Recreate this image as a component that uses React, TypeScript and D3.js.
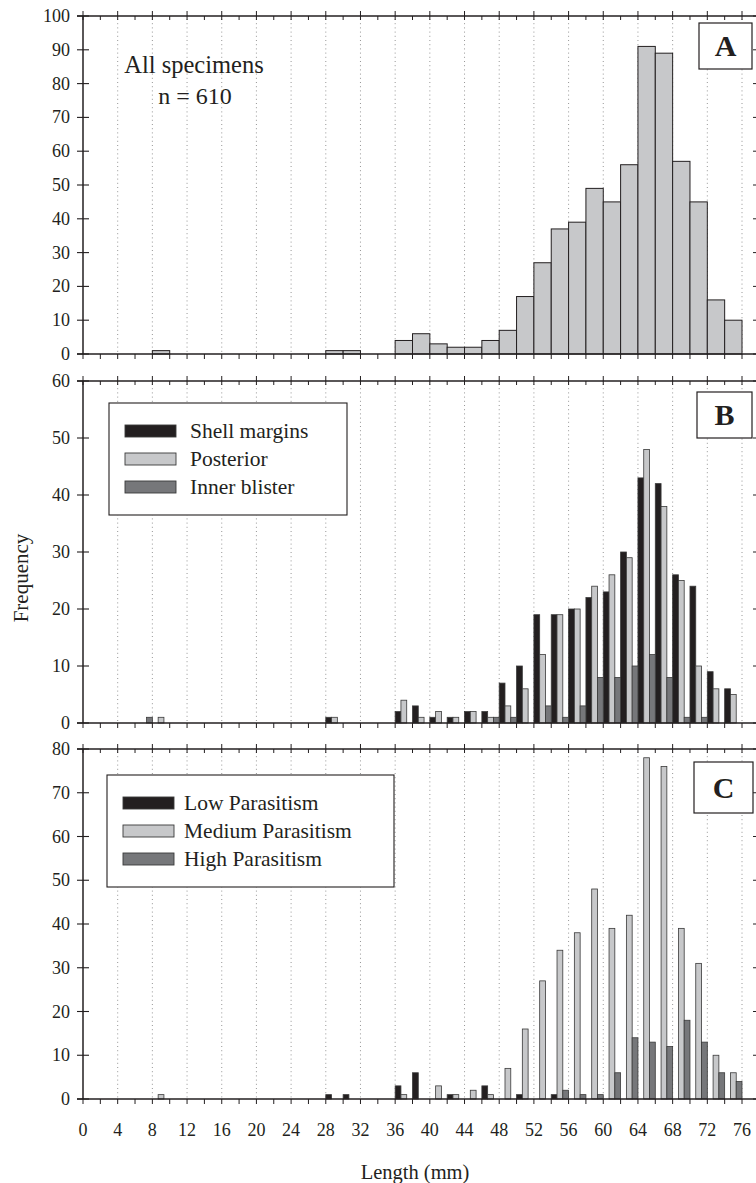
import React from "react";
import * as d3 from "d3";

// 2 mm length classes (class start, mm)
const binStarts = [0, 2, 4, 6, 8, 10, 12, 14, 16, 18, 20, 22, 24, 26, 28, 30, 32, 34, 36, 38,
  40, 42, 44, 46, 48, 50, 52, 54, 56, 58, 60, 62, 64, 66, 68, 70, 72, 74];

// panel A
const allSpecimens = [0, 0, 0, 0, 1, 0, 0, 0, 0, 0, 0, 0, 0, 0, 1, 1, 0, 0, 4, 6,
  3, 2, 2, 4, 7, 17, 27, 37, 39, 49, 45, 56, 91, 89, 57, 45, 16, 10];

// panel B
const shellMargins = [0, 0, 0, 0, 0, 0, 0, 0, 0, 0, 0, 0, 0, 0, 1, 0, 0, 0, 2, 3,
  1, 1, 2, 2, 7, 10, 19, 19, 20, 22, 23, 30, 43, 42, 26, 24, 9, 6];
const posterior = [0, 0, 0, 0, 1, 0, 0, 0, 0, 0, 0, 0, 0, 0, 1, 0, 0, 0, 4, 1,
  2, 1, 2, 1, 3, 6, 12, 19, 20, 24, 26, 29, 48, 38, 25, 10, 6, 5];
const innerBlister = [0, 0, 0, 1, 0, 0, 0, 0, 0, 0, 0, 0, 0, 0, 0, 0, 0, 0, 0, 0,
  0, 0, 0, 1, 1, 0, 3, 1, 3, 8, 8, 10, 12, 8, 1, 1, 0, 0];

// panel C
const lowParasitism = [0, 0, 0, 0, 0, 0, 0, 0, 0, 0, 0, 0, 0, 0, 1, 1, 0, 0, 3, 6,
  0, 1, 0, 3, 0, 1, 0, 1, 0, 0, 0, 0, 0, 0, 0, 0, 0, 0];
const mediumParasitism = [0, 0, 0, 0, 1, 0, 0, 0, 0, 0, 0, 0, 0, 0, 0, 0, 0, 0, 1, 0,
  3, 1, 2, 1, 7, 16, 27, 34, 38, 48, 39, 42, 78, 76, 39, 31, 10, 6];
const highParasitism = [0, 0, 0, 0, 0, 0, 0, 0, 0, 0, 0, 0, 0, 0, 0, 0, 0, 0, 0, 0,
  0, 0, 0, 0, 0, 0, 0, 2, 1, 1, 6, 14, 13, 12, 18, 13, 6, 4];

const xTickLabels = [0, 4, 8, 12, 16, 20, 24, 28, 32, 36, 40, 44, 48, 52, 56, 60, 64, 68, 72, 76];
const yTicksA = [0, 10, 20, 30, 40, 50, 60, 70, 80, 90, 100];
const yTicksB = [0, 10, 20, 30, 40, 50, 60];
const yTicksC = [0, 10, 20, 30, 40, 50, 60, 70, 80];

const legendB = ["Shell margins", "Posterior", "Inner blister"];
const legendC = ["Low Parasitism", "Medium Parasitism", "High Parasitism"];

const FILLS = ["#231f20", "#c7c8ca", "#76777a"];
const INK = "#231f20";
const FONT = "'Liberation Serif', 'Times New Roman', serif";

const W = 756, H = 1183;
const LEFT = 83, RIGHT = 758;
const x = d3.scaleLinear().domain([0, 76]).range([83, 742]);
const binW = x(2) - x(0);

function Panel({ label, top, bottom, yMax, yTicks, series, hist, legend, legendBox, labelBox, children }) {
  const y = d3.scaleLinear().domain([0, yMax]).range([bottom, top]);
  const sub = d3.scaleBand().domain(d3.range(series ? series.length : 1)).range([0, binW]);
  const minor = d3.range(0, 78, 2);

  return (
    <g>
      {/* dotted vertical grid */}
      {xTickLabels.filter(t => t > 0).map(t => (
        <line key={"g" + t} x1={x(t)} x2={x(t)} y1={top + 3} y2={bottom}
          stroke="#8a8a8a" strokeWidth={0.9} strokeDasharray="1 3.2" />
      ))}

      {/* bars */}
      {hist && binStarts.map((s, i) => hist[i] > 0 && (
        <rect key={"h" + s} x={x(s)} y={y(hist[i])} width={binW} height={y(0) - y(hist[i])}
          fill="#c7c8ca" stroke={INK} strokeWidth={1} />
      ))}
      {series && series.map((vals, k) => binStarts.map((s, i) => vals[i] > 0 && (
        <rect key={"b" + k + "-" + s} x={x(s) + sub(k)} y={y(vals[i])} width={sub.bandwidth()}
          height={y(0) - y(vals[i])} fill={FILLS[k]} stroke="#3a3a3a" strokeWidth={0.8} />
      )))}

      {/* frame */}
      <line x1={LEFT - 6} x2={RIGHT} y1={top} y2={top} stroke={INK} strokeWidth={1.4} />
      <line x1={LEFT - 6} x2={RIGHT} y1={bottom} y2={bottom} stroke={INK} strokeWidth={1.5} />
      <line x1={LEFT} x2={LEFT} y1={top} y2={bottom} stroke={INK} strokeWidth={1.5} />
      <line x1={RIGHT} x2={RIGHT} y1={top} y2={bottom} stroke={INK} strokeWidth={1.3} />

      {/* x ticks top/bottom */}
      {minor.map(t => {
        const major = t % 4 === 0;
        return (
          <g key={"t" + t}>
            <line x1={x(t)} x2={x(t)} y1={major ? top - 5 : top} y2={top + 4} stroke={INK} strokeWidth={1} />
            <line x1={x(t)} x2={x(t)} y1={bottom} y2={bottom + 5} stroke={INK} strokeWidth={1} />
          </g>
        );
      })}

      {/* y ticks */}
      {yTicks.map(v => (
        <g key={"y" + v}>
          <line x1={LEFT - 6} x2={LEFT + 6} y1={y(v)} y2={y(v)} stroke={INK} strokeWidth={1.1} />
          <line x1={RIGHT - 5} x2={RIGHT} y1={y(v)} y2={y(v)} stroke={INK} strokeWidth={1} />
          <text x={70} y={y(v) + 6} textAnchor="end" fontSize={18} fill={INK}>{v}</text>
        </g>
      ))}

      {/* panel letter */}
      <rect x={labelBox[0]} y={labelBox[1]} width={labelBox[2]} height={labelBox[3]}
        fill="#fff" stroke={INK} strokeWidth={1.2} />
      <text x={labelBox[0] + labelBox[2] / 2} y={labelBox[1] + labelBox[3] / 2 + 10}
        textAnchor="middle" fontSize={30} fontWeight="bold" fill={INK}>{label}</text>

      {/* legend */}
      {legend && (
        <g>
          <rect x={legendBox[0]} y={legendBox[1]} width={legendBox[2]} height={legendBox[3]}
            fill="#fff" stroke={INK} strokeWidth={1.1} />
          {legend.map((name, k) => {
            const cy = legendBox[1] + 28 + k * 28;
            return (
              <g key={name}>
                <rect x={legendBox[0] + 16} y={cy - 6} width={51} height={12}
                  fill={FILLS[k]} stroke="#3a3a3a" strokeWidth={0.9} />
                <text x={legendBox[0] + legendBox[4]} y={cy + 7} fontSize={21.5} fill={INK}>{name}</text>
              </g>
            );
          })}
        </g>
      )}
      {children}
    </g>
  );
}

export default function App() {
  return (
    <svg width={W} height={H} viewBox={`0 0 ${W} ${H}`}
      style={{ position: "absolute", left: 0, top: 0, background: "#fff", fontFamily: FONT }}>
      <rect width={W} height={H} fill="#fff" />

      <Panel label="A" top={16} bottom={354} yMax={100} yTicks={yTicksA}
        hist={allSpecimens} labelBox={[699, 23, 53, 46]}>
        <text x={194} y={73} textAnchor="middle" fontSize={24.5} fill={INK}>All specimens</text>
        <text x={195} y={104} textAnchor="middle" fontSize={24} fill={INK}>n = 610</text>
      </Panel>

      <Panel label="B" top={381} bottom={723} yMax={60} yTicks={yTicksB}
        series={[shellMargins, posterior, innerBlister]} legend={legendB}
        legendBox={[109, 403, 238, 112, 81]} labelBox={[697, 392, 55, 46]} />

      <Panel label="C" top={749} bottom={1099} yMax={80} yTicks={yTicksC}
        series={[lowParasitism, mediumParasitism, highParasitism]} legend={legendC}
        legendBox={[107, 775, 287, 112, 77]} labelBox={[694, 762, 59, 51]} />

      {xTickLabels.map(t => (
        <text key={"xl" + t} x={x(t)} y={1136} textAnchor="middle" fontSize={18} fill={INK}>{t}</text>
      ))}
      <text x={415} y={1179} textAnchor="middle" fontSize={20.5} fill={INK}>Length (mm)</text>
      <text transform="translate(28,578) rotate(-90)" textAnchor="middle" fontSize={21} fill={INK}>Frequency</text>
    </svg>
  );
}
